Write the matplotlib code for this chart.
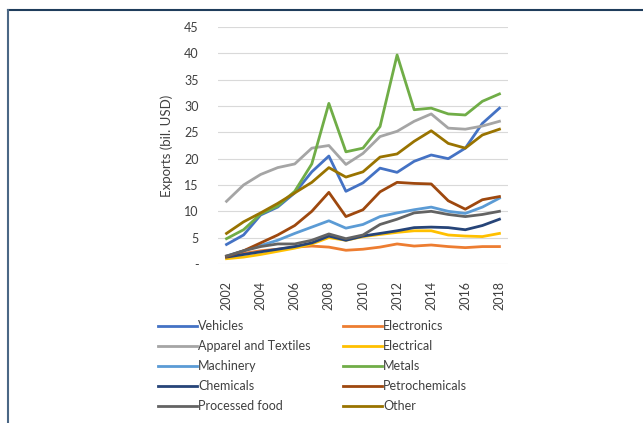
import numpy as np
import matplotlib.pyplot as plt
from matplotlib.lines import Line2D

plt.rcParams['font.family'] = ['Lato', 'DejaVu Sans']

years = list(range(2002, 2019))

# Exports, bil. USD
vehicles = [3.7, 5.5, 9.3, 10.8, 13.5, 17.5, 20.5, 13.8, 15.4, 18.2, 17.4, 19.5, 20.7, 20.0, 22.0, 26.7, 29.6]
electronics = [1.5, 2.0, 2.5, 2.8, 3.2, 3.4, 3.2, 2.6, 2.8, 3.2, 3.8, 3.4, 3.6, 3.3, 3.1, 3.3, 3.3]
apparel = [11.9, 15.0, 17.0, 18.3, 19.0, 22.0, 22.5, 18.9, 21.0, 24.2, 25.2, 27.1, 28.5, 25.8, 25.6, 26.2, 27.1]
electrical = [1.0, 1.3, 1.8, 2.4, 3.0, 3.8, 5.0, 4.5, 5.2, 5.6, 6.0, 6.3, 6.3, 5.5, 5.3, 5.2, 5.8]
machinery = [1.5, 2.5, 3.5, 4.5, 5.8, 7.0, 8.2, 6.8, 7.5, 9.0, 9.7, 10.3, 10.8, 10.0, 9.6, 10.8, 12.5]
metals = [4.8, 6.5, 9.5, 11.0, 13.8, 19.0, 30.5, 21.3, 22.0, 26.1, 39.7, 29.3, 29.6, 28.5, 28.3, 30.9, 32.3]
chemicals = [1.3, 1.8, 2.3, 2.8, 3.3, 4.0, 5.3, 4.5, 5.3, 5.8, 6.3, 6.9, 7.0, 6.9, 6.5, 7.3, 8.5]
petrochemicals = [1.4, 2.5, 4.0, 5.5, 7.3, 10.0, 13.6, 9.0, 10.3, 13.7, 15.5, 15.3, 15.2, 12.0, 10.4, 12.2, 12.8]
processed_food = [1.5, 2.5, 3.3, 3.8, 3.8, 4.5, 5.7, 4.8, 5.5, 7.5, 8.5, 9.7, 10.0, 9.4, 9.0, 9.4, 10.0]
other = [5.8, 8.0, 9.7, 11.5, 13.5, 15.5, 18.3, 16.5, 17.5, 20.3, 20.9, 23.3, 25.3, 22.9, 22.0, 24.5, 25.6]

# drawing order follows the legend order
series = [
    ("Vehicles", vehicles, "#4472C4"),
    ("Electronics", electronics, "#ED7D31"),
    ("Apparel and Textiles", apparel, "#A5A5A5"),
    ("Electrical", electrical, "#FFC000"),
    ("Machinery", machinery, "#5B9BD5"),
    ("Metals", metals, "#70AD47"),
    ("Chemicals", chemicals, "#264478"),
    ("Petrochemicals", petrochemicals, "#9E480E"),
    ("Processed food", processed_food, "#636363"),
    ("Other", other, "#997300"),
]

ytick_vals = [0, 5, 10, 15, 20, 25, 30, 35, 40, 45]
ytick_labels = ["-", "5", "10", "15", "20", "25", "30", "35", "40", "45"]

fig = plt.figure(figsize=(6.43, 4.23), dpi=100)
ax = fig.add_axes([0.339, 0.376, 0.451, 0.56])

handles = {}
for name, vals, col in series:
    ln, = ax.plot(years, vals, color=col, lw=2, label=name, solid_joinstyle='round')
    handles[name] = ln

ax.set_xlim(2001.5, 2018.5)
ax.set_ylim(0, 45)
ax.set_yticks(ytick_vals)
ax.set_yticklabels(ytick_labels)
ax.set_xticks(years[::2])
ax.set_xticklabels([str(y) for y in years[::2]], rotation=90)
ax.tick_params(length=0, labelsize=9, colors="#404040")
ax.tick_params(axis='y', pad=14)
ax.tick_params(axis='x', pad=12)
ax.grid(axis='y', color="#D9D9D9", lw=0.8)
ax.set_axisbelow(True)
for s in ax.spines.values():
    s.set_visible(False)
ax.set_ylabel("Exports (bil. USD)", fontsize=9.5, color="#404040", labelpad=8)

# matplotlib fills legend columns first, so reorder to read row by row
order = ["Vehicles", "Apparel and Textiles", "Machinery", "Chemicals", "Processed food",
         "Electronics", "Electrical", "Metals", "Petrochemicals", "Other"]
leg = fig.legend([handles[n] for n in order], order, ncol=2, frameon=False,
                 loc="upper left", bbox_to_anchor=(0.238, 0.255), fontsize=9,
                 handlelength=3.1, handletextpad=0.1, columnspacing=2.6,
                 labelspacing=0.64, borderaxespad=0)
for t in leg.get_texts():
    t.set_color("#404040")

# frame around the figure (top and left edges)
fig.add_artist(Line2D([8/643, 1], [1-10/423, 1-10/423], color="#1F3D5C", lw=1.5))
fig.add_artist(Line2D([8/643, 8/643], [0, 1-10/423], color="#4A6785", lw=1.5))

fig.savefig("out.png", dpi=100)
